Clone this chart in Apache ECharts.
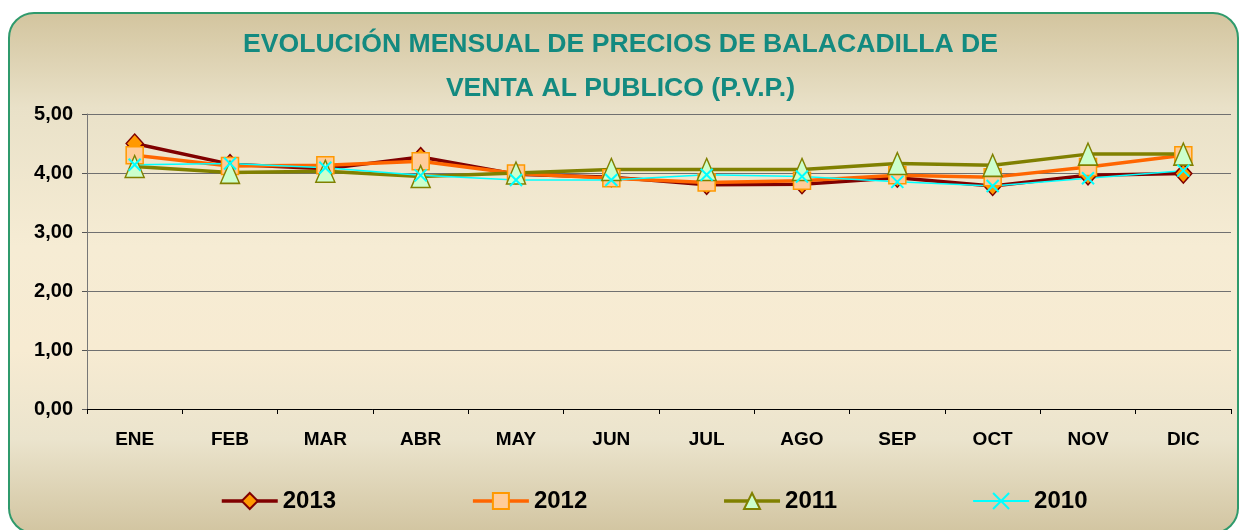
<!DOCTYPE html>
<html>
<head>
    <meta charset="utf-8">
    <title>Evolución mensual de precios</title>
    <script src="https://cdn.jsdelivr.net/npm/echarts@6/dist/echarts.min.js"></script>
    <style>
        html, body { margin: 0; padding: 0; background: #ffffff; }
        #frame {
            position: absolute; left: 8px; top: 12px; width: 1227px; height: 518px;
            border: 2px solid #2f9a6c; border-radius: 26px;
            background: linear-gradient(to bottom, #d3c59f 0%, #e9e1c8 18%, #f6ecd4 45%, #f7ebd2 65%, #ebe4cd 82%, #d2c5a1 100%);
        }
        #main { position: absolute; left: 0; top: 0; width: 1241px; height: 530px; }
    </style>
</head>
<body>
<div id="frame"></div>
<div id="main"></div>
<script type="text/javascript">
    // datos (precios mensuales, €)
    var meses = ['ENE', 'FEB', 'MAR', 'ABR', 'MAY', 'JUN', 'JUL', 'AGO', 'SEP', 'OCT', 'NOV', 'DIC'];
    var p2013 = [4.50, 4.15, 4.07, 4.27, 3.98, 3.93, 3.80, 3.81, 3.92, 3.78, 3.96, 3.99];
    var p2012 = [4.30, 4.12, 4.13, 4.20, 3.99, 3.91, 3.84, 3.87, 3.96, 3.93, 4.10, 4.30];
    var p2011 = [4.11, 4.01, 4.03, 3.94, 4.00, 4.06, 4.06, 4.06, 4.16, 4.13, 4.32, 4.32];
    var p2010 = [4.14, 4.16, 4.09, 3.96, 3.88, 3.88, 3.97, 3.94, 3.85, 3.78, 3.91, 4.04];
    var anios = ['2013', '2012', '2011', '2010'];

    var myChart = echarts.init(document.getElementById('main'));
    var fuente = 'Liberation Sans, Arial, sans-serif';

    var option = {
        animation: false,
        backgroundColor: 'transparent',
        title: {
            text: 'EVOLUCIÓN MENSUAL DE PRECIOS DE BALACADILLA DE\nVENTA AL PUBLICO (P.V.P.)',
            left: 'center',
            top: 18,
            textStyle: {
                color: '#138a80',
                fontFamily: fuente,
                fontWeight: 'bold',
                fontSize: 26.6,
                lineHeight: 44
            }
        },
        legend: {
            data: [
                { name: anios[0], lineStyle: { width: 3.5 } },
                { name: anios[1], lineStyle: { width: 3.5 } },
                { name: anios[2], lineStyle: { width: 3.5 } },
                { name: anios[3], lineStyle: { width: 2 } }
            ],
            left: 220,
            top: 489,
            padding: 0,
            itemWidth: 56,
            itemHeight: 20,
            itemGap: 135,
            textStyle: { fontFamily: fuente, fontWeight: 'bold', fontSize: 24, color: '#000' }
        },
        grid: { left: 87, right: 10, top: 114, bottom: 121 },
        xAxis: {
            type: 'category',
            data: meses,
            boundaryGap: true,
            axisLine: { lineStyle: { color: '#000', width: 1 } },
            axisTick: { show: true, length: 5, lineStyle: { color: '#000' } },
            axisLabel: { margin: 21, fontFamily: fuente, fontWeight: 'bold', fontSize: 19, color: '#000' }
        },
        yAxis: {
            type: 'value',
            min: 0,
            max: 5,
            interval: 1,
            axisLine: { show: true, lineStyle: { color: '#777', width: 1 } },
            axisTick: { show: true, length: 5, lineStyle: { color: '#555' } },
            splitLine: { lineStyle: { color: '#707070', width: 1 } },
            axisLabel: {
                margin: 14,
                fontFamily: fuente, fontWeight: 'bold', fontSize: 20, color: '#000',
                formatter: function (v) { return v.toFixed(2).replace('.', ','); }
            }
        },
        series: [
            {
                name: '2013', type: 'line', data: p2013,
                symbol: 'diamond', symbolSize: [17, 19],
                lineStyle: { color: '#800000', width: 3.5 },
                itemStyle: { color: '#ff9900', borderColor: '#800000', borderWidth: 1.5 }
            },
            {
                name: '2012', type: 'line', data: p2012,
                symbol: 'rect', symbolSize: 17,
                lineStyle: { color: '#ff6600', width: 3.5 },
                itemStyle: { color: '#ffcc99', borderColor: '#ff9900', borderWidth: 1.5 }
            },
            {
                name: '2011', type: 'line', data: p2011,
                symbol: 'triangle', symbolSize: [19, 22],
                lineStyle: { color: '#808000', width: 3.5 },
                itemStyle: { color: '#ccffcc', borderColor: '#808000', borderWidth: 1.5 }
            },
            {
                name: '2010', type: 'line', data: p2010,
                symbol: 'path://M0,0L10,10M10,0L0,10', symbolSize: 12,
                lineStyle: { color: '#00ffff', width: 1.5 },
                itemStyle: { color: '#00ffff', borderColor: '#00ffff', borderWidth: 2 }
            }
        ]
    };

    myChart.setOption(option);
</script>
</body>
</html>
